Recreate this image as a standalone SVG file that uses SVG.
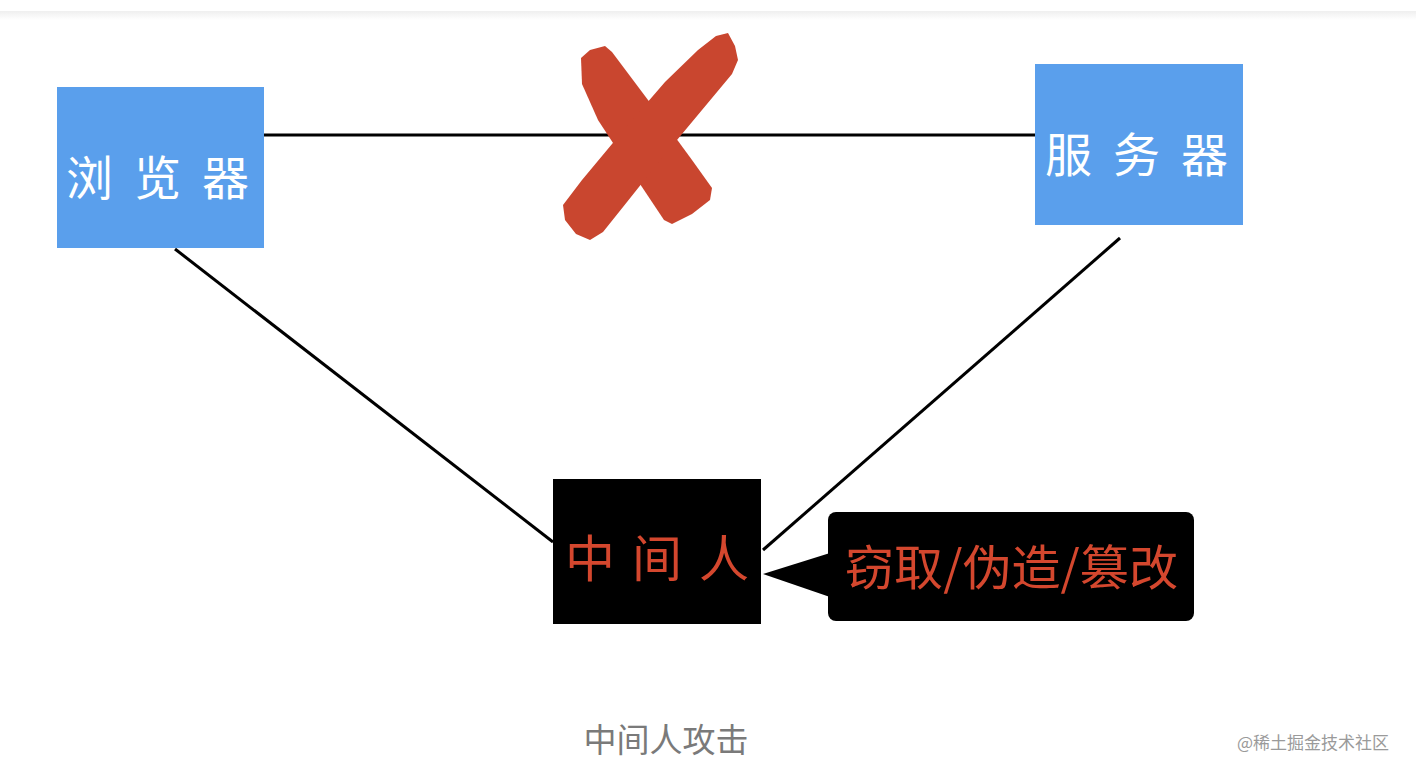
<svg xmlns="http://www.w3.org/2000/svg" width="1416" height="776" viewBox="0 0 1416 776">
<style>
.box{fill:#5a9fec}
.wt{fill:#ffffff;font-family:"Noto Sans CJK SC",sans-serif;font-size:47px;letter-spacing:21px}
.rt{fill:#d4472e;font-family:"Noto Sans CJK SC",sans-serif}
.ln{stroke:#000;stroke-width:3;fill:none}
</style>
<defs>
<linearGradient id="band" x1="0" y1="0" x2="0" y2="1">
<stop offset="0" stop-color="#efefef"/>
<stop offset="1" stop-color="#ffffff"/>
</linearGradient>
</defs>
<rect width="1416" height="776" fill="#fff"/>
<rect x="0" y="11" width="1416" height="9" fill="url(#band)"/>
<g id="connectors">
<line class="ln" x1="264" y1="135" x2="1035" y2="135"/>
<line class="ln" x1="175" y1="249" x2="553" y2="542"/>
<line class="ln" x1="1120" y1="238" x2="763" y2="550"/>
</g>
<g id="cross" fill="#c9462f">
<path d="M581,58 L590,50 L605,46 L612,52 L648,100 L692,160 L712,188 L710,200 L692,214 L672,224 L664,220 L632,172 L598,120 L582,84 Z"/>
<path d="M716,36 L728,33 L735,46 L738,60 L732,74 L702,110 L662,158 L627,202 L603,232 L590,240 L576,234 L565,220 L563,205 L582,180 L627,126 L665,82 L698,50 Z"/>
</g>
<g id="browser">
<rect class="box" x="57" y="87" width="207" height="161"/>
<text class="wt" x="66" y="195">浏览器</text>
</g>
<g id="server">
<rect class="box" x="1035" y="64" width="208" height="161"/>
<text class="wt" x="1045" y="172">服务器</text>
</g>
<g id="mitm">
<rect x="553" y="479" width="208" height="145" fill="#000"/>
<text class="rt" x="565" y="577" font-size="50" letter-spacing="17">中间人</text>
</g>
<g id="callout">
<path d="M763,574 L830,553 L830,597 Z" fill="#000"/>
<rect x="828" y="512" width="366" height="109" rx="8" fill="#000"/>
<text class="rt" x="845" y="585" font-size="48" textLength="333" lengthAdjust="spacingAndGlyphs">窃取/伪造/篡改</text>
</g>
<text x="666" y="752" font-family="Noto Sans CJK SC,sans-serif" font-size="33" fill="#7a7a7a" text-anchor="middle">中间人攻击</text>
<text x="1313" y="749" font-family="Noto Sans CJK SC,sans-serif" font-size="17" fill="#9a9a9a" text-anchor="middle">@稀土掘金技术社区</text>
</svg>
